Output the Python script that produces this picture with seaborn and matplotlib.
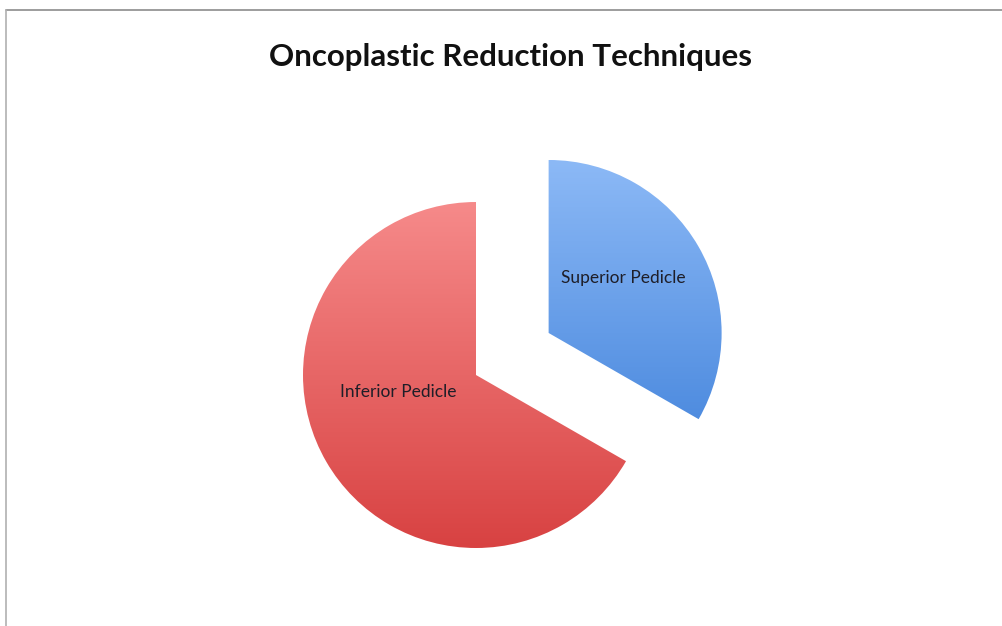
import numpy as np
import matplotlib
matplotlib.use("Agg")
import matplotlib.pyplot as plt
from matplotlib.lines import Line2D
import seaborn as sns

# Chart data
techniques = ["Superior Pedicle", "Inferior Pedicle"]
shares = [33.3, 66.7]
explode = [0.485, 0.0]
top_colors = ["#8cb9f6", "#f68a8a"]
bottom_colors = ["#3a7dd8", "#d84242"]

sns.set_theme(style="white")
plt.rcParams["font.family"] = ["Lato", "DejaVu Sans"]

W, H = 1003, 626
R_PX = 173  # pie radius in pixels
fig = plt.figure(figsize=(W / 100, H / 100), dpi=100)
ax = fig.add_axes([0, 0, 1, 1])

center = (476 / R_PX, (H - 375) / R_PX)
wedges, texts = ax.pie(shares, labels=techniques, explode=explode, startangle=90,
                       counterclock=False, radius=1, center=center,
                       wedgeprops=dict(linewidth=0), frame=True,
                       textprops=dict(fontsize=12.5, color="#1e1e28"))
ax.set_xlim(0, W / R_PX)
ax.set_ylim(0, H / R_PX)
ax.set_aspect("equal")
ax.axis("off")

# vertical gradient fill clipped to each wedge
for w, c_top, c_bot in zip(wedges, top_colors, bottom_colors):
    w.set_facecolor("none")
    cx, cy = w.center
    grad = np.array(sns.blend_palette([c_top, c_bot], n_colors=256))
    img = grad[:, None, :]
    im = ax.imshow(img, extent=[cx - 1, cx + 1, cy - 1, cy + 1],
                   origin="upper", aspect="auto", zorder=1)
    im.set_clip_path(w)

# label placement relative to each wedge centre
label_offsets = [(0.43, 0.32), (-0.45, -0.10)]
for t, w, (dx, dy) in zip(texts, wedges, label_offsets):
    cx, cy = w.center
    t.set_position((cx + dx, cy + dy))
    t.set_ha("center")
    t.set_va("center")
    t.set_zorder(3)

ax.set_xlim(0, W / R_PX)
ax.set_ylim(0, H / R_PX)

fig.text(511 / W, 1 - 57 / H, "Oncoplastic Reduction Techniques", ha="center", va="center",
         fontsize=22.5, fontweight="bold", color="#111111")

# chart frame (top and left edges visible)
fig.add_artist(Line2D([6 / W, 1], [1 - 10 / H, 1 - 10 / H], color="#8c8c8c", lw=1.2))
fig.add_artist(Line2D([6 / W, 6 / W], [0, 1 - 10 / H], color="#b0b0b0", lw=1.2))

fig.savefig("out.png", dpi=100, facecolor="white")
